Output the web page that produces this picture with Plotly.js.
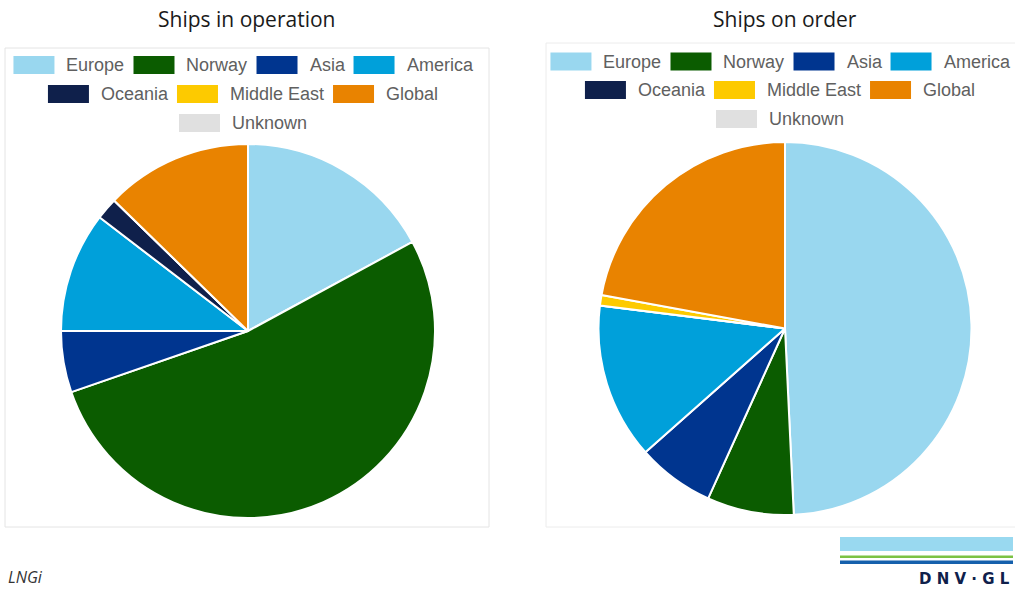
<!DOCTYPE html>
<html>
<head>
<meta charset="utf-8">
<script src="https://cdn.plot.ly/plotly-3.0.1.min.js"></script>
<style>
  html, body { margin: 0; padding: 0; background: #fff; }
  #chart { width: 1015px; height: 589px; }
</style>
</head>
<body>
<div id="chart"></div>
<script>
// ---- data ----
const categories = ['Europe', 'Norway', 'Asia', 'America', 'Oceania', 'Middle East', 'Global', 'Unknown'];
const inOperation = [17.1, 52.6, 5.3, 10.4, 1.9, 0, 12.7, 0];   // share of ships in operation (%)
const onOrder     = [49.2, 7.5, 6.7, 13.5, 0, 0.9, 22.1, 0];     // share of ships on order (%)
const sliceColors = ['#99d7ef', '#0b5c00', '#00358f', '#00a0da', '#0f204b', '#fdca00', '#e98300', '#e0e0e0'];
const chartTitles = ['Ships in operation', 'Ships on order'];
const legendRows  = [[0, 1, 2, 3], [4, 5, 6], [7]];
const sourceLabel = 'LNGi';
const logoLabel   = 'D N V · G L';

// ---- layout helpers ----
const W = 1015, H = 589;
const px = x => x / W;
const py = y => 1 - y / H;

const legendFont = '18px "Liberation Sans", Arial, sans-serif';
const canvas = document.createElement('canvas');
const ctx = canvas.getContext('2d');
ctx.font = legendFont;
const textW = s => ctx.measureText(s).width;

const SW = 41, SH = 18, GAP_T = 10, GAP_I = 11;

const shapes = [];
const annotations = [];

function buildLegend(centerX, rowYs) {
  legendRows.forEach((row, ri) => {
    const widths = row.map(i => SW + GAP_T + textW(categories[i]));
    const total = widths.reduce((a, b) => a + b, 0) + GAP_I * (row.length - 1);
    let x = centerX - total / 2;
    const yc = rowYs[ri];
    row.forEach((i, k) => {
      shapes.push({type: 'rect', xref: 'paper', yref: 'paper',
        x0: px(x), x1: px(x + SW), y0: py(yc + SH / 2), y1: py(yc - SH / 2),
        fillcolor: sliceColors[i], line: {width: 0}});
      annotations.push({xref: 'paper', yref: 'paper', x: px(x + SW + GAP_T), y: py(yc),
        xanchor: 'left', yanchor: 'middle', showarrow: false, text: categories[i],
        font: {family: '"Liberation Sans", Arial, sans-serif', size: 18, color: '#606060'}});
      x += widths[k] + GAP_I;
    });
  });
}

// panel boxes
shapes.push({type: 'rect', xref: 'paper', yref: 'paper', x0: px(5), x1: px(489), y0: py(527), y1: py(48),
  line: {color: '#e4e4e4', width: 1}, fillcolor: 'rgba(0,0,0,0)'});
shapes.push({type: 'rect', xref: 'paper', yref: 'paper', x0: px(546), x1: px(1030), y0: py(527), y1: py(43),
  line: {color: '#ececec', width: 1}, fillcolor: 'rgba(0,0,0,0)'});

buildLegend(242, [65, 94, 123]);
buildLegend(779, [61.5, 90, 119]);

// titles
annotations.push({xref: 'paper', yref: 'paper', x: px(246), y: py(19), xanchor: 'center', yanchor: 'middle',
  showarrow: false, text: chartTitles[0], font: {family: '"Open Sans", sans-serif', size: 21, color: '#1a1a1a'}});
annotations.push({xref: 'paper', yref: 'paper', x: px(785), y: py(19), xanchor: 'center', yanchor: 'middle',
  showarrow: false, text: chartTitles[1], font: {family: '"Open Sans", sans-serif', size: 21, color: '#1a1a1a'}});

// source label
annotations.push({xref: 'paper', yref: 'paper', x: px(6), y: py(577), xanchor: 'left', yanchor: 'middle',
  showarrow: false, text: '<i>' + sourceLabel + '</i>', font: {family: '"Open Sans", sans-serif', size: 16, color: '#333'}});

// logo
shapes.push({type: 'rect', xref: 'paper', yref: 'paper', x0: px(840), x1: px(1013), y0: py(551), y1: py(537),
  fillcolor: '#99d9f0', line: {width: 0}});
shapes.push({type: 'rect', xref: 'paper', yref: 'paper', x0: px(840), x1: px(1013), y0: py(558), y1: py(555.5),
  fillcolor: '#7cc244', line: {width: 0}});
shapes.push({type: 'rect', xref: 'paper', yref: 'paper', x0: px(840), x1: px(1013), y0: py(564), y1: py(560.5),
  fillcolor: '#1560ac', line: {width: 0}});
annotations.push({xref: 'paper', yref: 'paper', x: px(1012), y: py(579), xanchor: 'right', yanchor: 'middle',
  showarrow: false, text: '<b>' + logoLabel + '</b>', font: {family: '"DejaVu Sans", sans-serif', size: 15, color: '#0f204b'}});

const pieCommon = {
  type: 'pie', labels: categories, sort: false, direction: 'clockwise', rotation: 0,
  textinfo: 'none', hoverinfo: 'skip', showlegend: false,
  marker: {colors: sliceColors, line: {color: '#ffffff', width: 2}}
};

const data = [
  Object.assign({}, pieCommon, {values: inOperation, name: chartTitles[0],
    domain: {x: [px(61), px(435)], y: [py(518), py(144)]}}),
  Object.assign({}, pieCommon, {values: onOrder, name: chartTitles[1],
    domain: {x: [px(598.5), px(971.5)], y: [py(515), py(142)]}})
];

const layout = {
  width: W, height: H,
  margin: {l: 0, r: 0, t: 0, b: 0},
  paper_bgcolor: '#ffffff', plot_bgcolor: '#ffffff',
  showlegend: false,
  shapes: shapes, annotations: annotations
};

Plotly.newPlot('chart', data, layout, {displayModeBar: false, staticPlot: true});
</script>
</body>
</html>
